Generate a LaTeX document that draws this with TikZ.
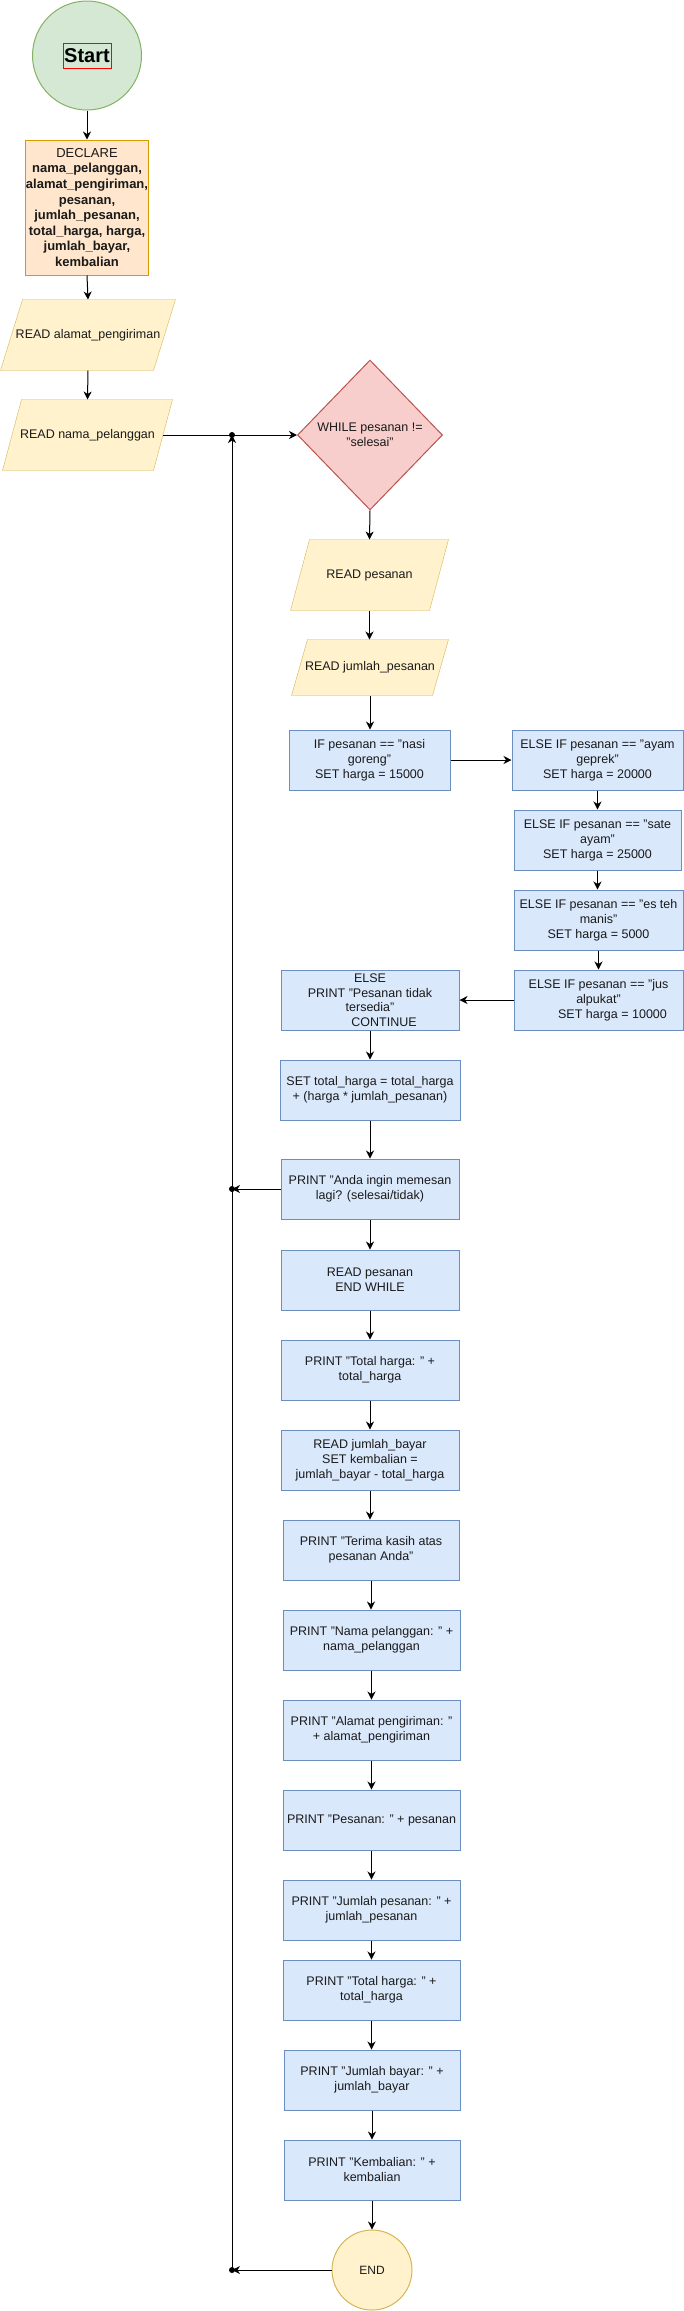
\documentclass[tikz,border=0pt]{standalone}
\usepackage{fontspec}
\setmainfont{Liberation Sans}
\usetikzlibrary{arrows.meta,shapes.geometric,calc,backgrounds}
\definecolor{gF}{HTML}{D5E8D4}\definecolor{gS}{HTML}{82B366}
\definecolor{oF}{HTML}{FFE6CC}\definecolor{oS}{HTML}{D79B00}
\definecolor{yF}{HTML}{FFF2CC}\definecolor{yS}{HTML}{D6B656}
\definecolor{rF}{HTML}{F8CECC}\definecolor{rS}{HTML}{B85450}
\definecolor{bF}{HTML}{DAE8FC}\definecolor{bS}{HTML}{6C8EBF}
\definecolor{txt}{HTML}{1A1A1A}
\newcommand\fs{\fontsize{12.5}{15}\selectfont}
\newcommand\drawpara[2]{%
  \path[parashape] ($(#1.north west)+(#2/2,0)$) -- ($(#1.north east)+(#2/2,0)$)
    -- ($(#1.south east)+(-#2/2,0)$) -- ($(#1.south west)+(-#2/2,0)$) -- cycle;}
\begin{document}
\begin{tikzpicture}[x=1pt,y=-1pt, line width=1pt,
  flow/.style={draw=black, -{Stealth[length=8pt,width=8pt,inset=2.5pt]}},
  bluebox/.style={draw=bS, fill=bF, minimum height=60pt, inner sep=0pt, align=center, font=\fs, text=txt},
  paranode/.style={minimum height=70pt, inner sep=0pt, align=center, font=\fs, text=txt},
  parashape/.style={draw=yS, fill=yF},
  junc/.style={fill=black}]
\useasboundingbox (0,0) rectangle (683,2311);

% start
\node[circle, draw=gS, fill=gF, minimum size=109pt, inner sep=0pt] (start) at (87,55.5) {};
\node[draw=red, minimum width=48pt, minimum height=25pt, inner sep=0pt, text=black,
      font=\fontsize{20}{24}\selectfont\bfseries] (startlbl) at (87,55.5) {Start};

% declare
\node[draw=oS, fill=oF, minimum width=120pt, minimum height=135pt, inner sep=0pt, align=center,
      font=\fontsize{13}{15.6}\selectfont, text=txt] (declare) at (87,207.5)
  {DECLARE\\\textbf{nama\_pelanggan,}\\\textbf{alamat\_pengiriman,}\\\textbf{pesanan,}\\
   \textbf{jumlah\_pesanan,}\\\textbf{total\_harga, harga,}\\\textbf{jumlah\_bayar,}\\\textbf{kembalian}};

% parallelograms and decision
\node[paranode, minimum width=152pt] (ra) at (88,335) {READ alamat\_pengiriman};
\node[paranode, minimum width=150pt] (rn) at (87.5,435) {READ nama\_pelanggan};
\node[diamond, draw=rS, fill=rF, minimum width=145pt, minimum height=150pt, inner sep=0pt,
      align=center, font=\fs, text=txt] (while) at (370,435) {WHILE pesanan !=\\"selesai"};
\node[paranode, minimum width=138pt] (rp) at (369.5,575) {READ pesanan};
\node[paranode, minimum width=140pt, minimum height=55pt] (rj) at (370,667.5) {READ jumlah\_pesanan};
\begin{scope}[on background layer]
  \drawpara{ra}{22}
  \drawpara{rn}{19}
  \drawpara{rp}{19}
  \drawpara{rj}{16}
\end{scope}

% if chain
\node[bluebox, minimum width=161pt] (if) at (369.5,760) {IF pesanan == "nasi\\goreng"\\SET harga = 15000};
\node[bluebox, minimum width=171pt] (ayam) at (597.5,760) {ELSE IF pesanan == "ayam\\geprek"\\SET harga = 20000};
\node[bluebox, minimum width=167pt] (sate) at (597.5,840) {ELSE IF pesanan == "sate\\ayam"\\SET harga = 25000};
\node[bluebox, minimum width=169pt] (esteh) at (598.5,920) {ELSE IF pesanan == "es teh\\manis"\\SET harga = 5000};
\node[bluebox, minimum width=169pt] (jus) at (598.5,1000) {ELSE IF pesanan == "jus\\alpukat"\\\hspace*{28pt}SET harga = 10000};
\node[bluebox, minimum width=178pt, font=\fontsize{12.5}{14.5}\selectfont] (else) at (370,1000) {ELSE\\PRINT "Pesanan tidak\\tersedia"\\\hspace*{28pt}CONTINUE};

% main column
\node[bluebox, minimum width=180pt] (settotal) at (370,1090) {SET total\_harga = total\_harga\\+ (harga * jumlah\_pesanan)};
\node[bluebox, minimum width=178pt] (anda) at (370,1189) {PRINT "Anda ingin memesan\\lagi? (selesai/tidak)};
\node[bluebox, minimum width=178pt] (endwhile) at (370,1280) {READ pesanan\\END WHILE};
\node[bluebox, minimum width=178pt] (total1) at (370,1370) {PRINT "Total harga: " +\\total\_harga};
\node[bluebox, minimum width=178pt] (bayar) at (370,1460) {READ jumlah\_bayar\\SET kembalian =\\jumlah\_bayar - total\_harga};
\node[bluebox, minimum width=176pt] (terima) at (371,1550) {PRINT "Terima kasih atas\\pesanan Anda"};
\node[bluebox, minimum width=177pt] (nama) at (371.5,1640) {PRINT "Nama pelanggan: " +\\nama\_pelanggan};
\node[bluebox, minimum width=177pt] (alamat) at (371.5,1730) {PRINT "Alamat pengiriman: "\\+ alamat\_pengiriman};
\node[bluebox, minimum width=177pt] (pesanan) at (371.5,1820) {PRINT "Pesanan: " + pesanan};
\node[bluebox, minimum width=177pt] (jpesanan) at (371.5,1910) {PRINT "Jumlah pesanan: " +\\jumlah\_pesanan};
\node[bluebox, minimum width=177pt] (total2) at (371.5,1990) {PRINT "Total harga: " +\\total\_harga};
\node[bluebox, minimum width=176pt] (jbayar) at (372,2080) {PRINT "Jumlah bayar: " +\\jumlah\_bayar};
\node[bluebox, minimum width=176pt] (kembalian) at (372,2170) {PRINT "Kembalian: " +\\kembalian};
\node[circle, draw=yS, fill=yF, minimum size=80pt, inner sep=0pt, font=\fontsize{12}{14}\selectfont, text=txt] (end) at (372,2270) {END};

% junctions
\coordinate (j1) at (232,435);
\coordinate (j2) at (232,1189);
\coordinate (j3) at (232,2270);

% connectors
\draw[flow] (start.south) -- (declare.north);
\draw[flow] (declare.south) -- (ra.north);
\draw[flow] (ra.south) -- (rn.north);
\draw[flow] (rn.east) -- (while.west);
\draw[flow] (while.south) -- (rp.north);
\draw[flow] (rp.south) -- (rp.south |- rj.north);
\draw[flow] (rj.south) -- (rj.south |- if.north);
\draw[flow] (if.east) -- (ayam.west);
\draw[flow] (ayam.south) -- (ayam.south |- sate.north);
\draw[flow] (sate.south) -- (sate.south |- esteh.north);
\draw[flow] (esteh.south) -- (esteh.south |- jus.north);
\draw[flow] (jus.west) -- (else.east);
\draw[flow] (else.south) -- (else.south |- settotal.north);
\draw[flow] (settotal.south) -- (settotal.south |- anda.north);
\draw[flow] (anda.south) -- (anda.south |- endwhile.north);
\draw[flow] (endwhile.south) -- (endwhile.south |- total1.north);
\draw[flow] (total1.south) -- (total1.south |- bayar.north);
\draw[flow] (bayar.south) -- (bayar.south |- terima.north);
\draw[flow] (terima.south) -- (terima.south |- nama.north);
\draw[flow] (nama.south) -- (nama.south |- alamat.north);
\draw[flow] (alamat.south) -- (alamat.south |- pesanan.north);
\draw[flow] (pesanan.south) -- (pesanan.south |- jpesanan.north);
\draw[flow] (jpesanan.south) -- (jpesanan.south |- total2.north);
\draw[flow] (total2.south) -- (total2.south |- jbayar.north);
\draw[flow] (jbayar.south) -- (jbayar.south |- kembalian.north);
\draw[flow] (kembalian.south) -- (kembalian.south |- end.north);
\draw[flow] (anda.west) -- (j2);
\draw[flow] (end.west) -- (j3);
\draw[flow] (j3) -- (j1);
\fill[junc] (j1) circle (3pt);
\fill[junc] (j2) circle (3pt);
\fill[junc] (j3) circle (3pt);
\end{tikzpicture}
\end{document}
